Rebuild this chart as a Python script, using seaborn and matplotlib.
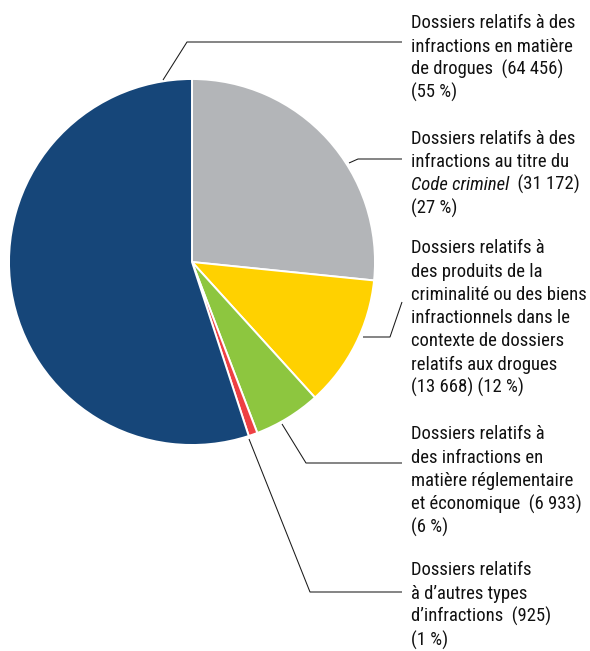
import matplotlib
matplotlib.use("Agg")
import matplotlib.pyplot as plt
from matplotlib import font_manager
import seaborn as sns

# ---------------- data ----------------
categories = [
    "Drogues",
    "Code criminel",
    "Produits de la criminalité",
    "Réglementaire et économique",
    "Autres types",
]
counts = [64456, 31172, 13668, 6933, 925]
percents = [55, 27, 12, 6, 1]
colors = ["#164679", "#B3B5B8", "#FFD100", "#8DC63F", "#EE4043"]

# drawing order of the wedges, clockwise from the top
pie_order = [1, 2, 3, 4, 0]


def fmt(n):
    return f"{n:,}".replace(",", " ")


label_lines = [
    ["Dossiers relatifs à des", "infractions en matière",
     f"de drogues  ({fmt(counts[0])})", f"({percents[0]} %)"],
    ["Dossiers relatifs à des", "infractions au titre du",
     ("Code criminel", f"  ({fmt(counts[1])})"), f"({percents[1]} %)"],
    ["Dossiers relatifs à", "des produits de la", "criminalité ou des biens",
     "infractionnels dans le", "contexte de dossiers", "relatifs aux drogues",
     f"({fmt(counts[2])}) ({percents[2]} %)"],
    ["Dossiers relatifs à", "des infractions en", "matière réglementaire",
     f"et économique  ({fmt(counts[3])})", f"({percents[3]} %)"],
    ["Dossiers relatifs", "à d\u2019autres types",
     f"d\u2019infractions  ({fmt(counts[4])})", f"({percents[4]} %)"],
]

# ---------------- layout (pixels, y measured from the top) ----------------
W, H = 590, 651
center_px = (192, 262)
radius_px = 183
text_x = 411
first_baselines = [28.3, 143.5, 253.3, 439.4, 575.4]
line_step = 23.3
probe_line = "criminalité ou des biens"
target_width = 174  # pixel width of the probe line in the reference
leaders = [
    [(163, 80), (187, 42), (402, 42)],
    [(349, 163), (358, 159), (402, 159)],
    [(363, 337), (390, 337), (402, 302)],
    [(282, 424), (306, 463), (402, 463)],
    [(249, 439), (310, 592), (402, 592)],
]

sns.set_theme(style="white")

# pick the narrowest available sans family
names = {f.name for f in font_manager.fontManager.ttflist}
condensed_dejavu = any("DejaVuSansCondensed" in f.fname for f in font_manager.fontManager.ttflist)
stretch = "normal"
if "Roboto Condensed" in names:
    main = "Roboto Condensed"
elif "Liberation Sans Narrow" in names:
    main = "Liberation Sans Narrow"
elif "Arial Narrow" in names:
    main = "Arial Narrow"
elif condensed_dejavu:
    main = "DejaVu Sans"
    stretch = "condensed"
else:
    main = "Liberation Sans"
plt.rcParams["font.family"] = [main, "DejaVu Sans"]
plt.rcParams["font.stretch"] = stretch
palette = sns.color_palette(colors)

fig = plt.figure(figsize=(W / 100, H / 100), dpi=100)
ax = fig.add_axes([0, 0, 1, 1])

# size the font so that the reference line width is matched
probe = fig.text(0, 0, probe_line, fontsize=15.5)
fig.canvas.draw()
pw = probe.get_window_extent().width
probe.remove()
fs = 15.5 * target_width / pw


def P(x, y):
    return x, H - y


ax.pie(
    [counts[i] for i in pie_order],
    colors=[palette[i] for i in pie_order],
    startangle=90,
    counterclock=False,
    center=P(*center_px),
    radius=radius_px,
    wedgeprops=dict(edgecolor="white", linewidth=1.4),
    frame=True,
)
ax.set_xlim(0, W)
ax.set_ylim(0, H)
ax.set_aspect("equal")
ax.axis("off")

for pts in leaders:
    xs = [p[0] for p in pts]
    ys = [H - p[1] for p in pts]
    ax.plot(xs, ys, color="#1a1a1a", lw=0.75, solid_capstyle="butt")

for lines, b0 in zip(label_lines, first_baselines):
    for k, line in enumerate(lines):
        y = b0 + k * line_step
        if isinstance(line, tuple):
            t1 = ax.text(*P(text_x, y), line[0], fontsize=fs, style="italic",
                         va="baseline", ha="left", color="#111111")
            ax.annotate(line[1], xy=(1, 0), xycoords=t1, va="bottom", ha="left",
                        fontsize=fs, color="#111111")
        else:
            ax.text(*P(text_x, y), line, fontsize=fs, va="baseline", ha="left",
                    color="#111111")

fig.savefig("out.png", dpi=100, facecolor="white")
